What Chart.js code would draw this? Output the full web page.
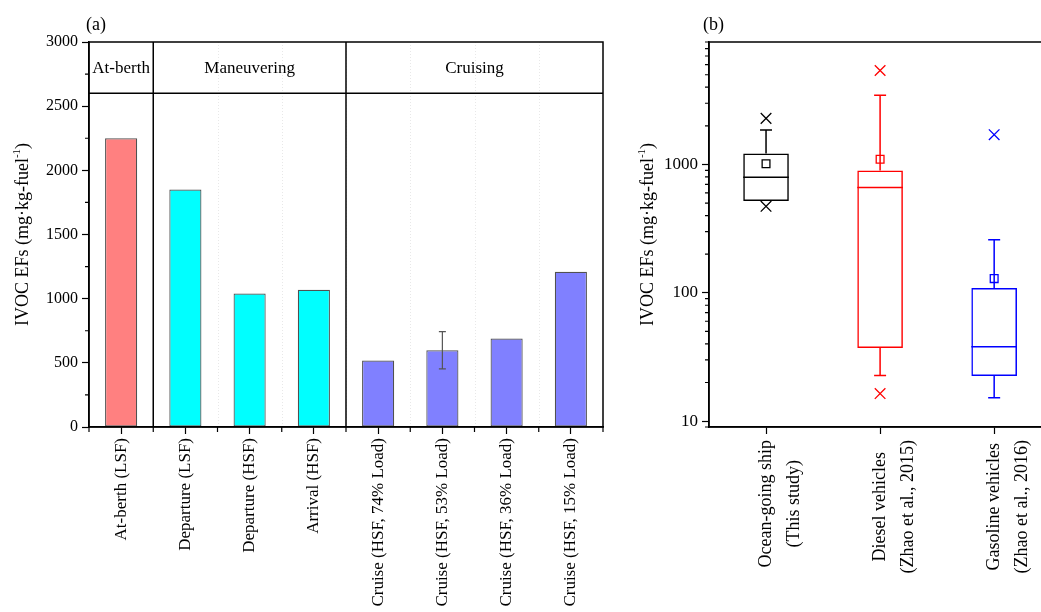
<!DOCTYPE html>
<html>
<head>
<meta charset="utf-8">
<title>IVOC emission factors</title>
<script src="https://cdn.jsdelivr.net/npm/chart.js@4.4.1/dist/chart.umd.min.js"></script>
<style>
  html, body { margin: 0; padding: 0; background: #fff; overflow: hidden; width: 1041px; height: 612px; }
  #panelA { position: absolute; left: 0; top: 0; }
  #panelB { position: absolute; left: 620px; top: 0; }
</style>
</head>
<body>
<canvas id="panelA" width="625" height="612"></canvas>
<canvas id="panelB" width="440" height="612"></canvas>
<script>
// ---- (a) IVOC EFs by operating mode (mg per kg fuel) ----
const modeLabels = ['At-berth (LSF)', 'Departure (LSF)', 'Departure (HSF)', 'Arrival (HSF)',
  'Cruise (HSF, 74% Load)', 'Cruise (HSF, 53% Load)', 'Cruise (HSF, 36% Load)', 'Cruise (HSF, 15% Load)'];
const modeEFs = [2250, 1850, 1040, 1070, 518, 598, 690, 1210];
const modeErr = [null, null, null, null, null, 145, null, null];
const modeColors = ['#FF8080', '#00FFFF', '#00FFFF', '#00FFFF', '#8080FF', '#8080FF', '#8080FF', '#8080FF'];
const phaseNames = ['At-berth', 'Maneuvering', 'Cruising'];
const phaseSizes = [1, 3, 4];
const phaseBandFloor = 2600;
const yTicksA = [0, 500, 1000, 1500, 2000, 2500, 3000];

// ---- (b) comparison with on-road vehicles (box statistics) ----
const sourceLabels = [
  ['Ocean-going ship', '(This study)'],
  ['Diesel vehicles', '(Zhao et al., 2015)'],
  ['Gasoline vehicles', '(Zhao et al., 2016)']
];
const boxQ1 = [520, 37.2, 22.5];
const boxQ3 = [1220, 897, 109];
const boxMedian = [796, 661, 38];
const boxMean = [1012, 1099, 129];
const whiskerLow = [520, 22.7, 15.2];
const whiskerHigh = [1854, 3460, 259];
const extremeHigh = [2286, 5400, 1706];
const extremeLow = [472, 16.4, null];
const sourceColors = ['#000000', '#FF0000', '#0000FF'];
const yTicksB = [10, 100, 1000];

const SERIF = '"Liberation Serif", "Times New Roman", serif';
Chart.defaults.font.family = SERIF;
Chart.defaults.color = '#000';

function drawYTitle(ctx, cx, cy, main, sup, tail, size) {
  ctx.save();
  ctx.translate(cx, cy);
  ctx.rotate(-Math.PI / 2);
  ctx.fillStyle = '#000';
  ctx.textBaseline = 'middle';
  ctx.textAlign = 'left';
  const f1 = size + 'px ' + SERIF, f2 = Math.round(size * 0.62) + 'px ' + SERIF;
  ctx.font = f1; const w1 = ctx.measureText(main).width; const w3 = ctx.measureText(tail).width;
  ctx.font = f2; const w2 = ctx.measureText(sup).width;
  let x = -(w1 + w2 + w3) / 2;
  ctx.font = f1; ctx.fillText(main, x, 0); x += w1;
  ctx.font = f2; ctx.fillText(sup, x, -size * 0.33); x += w2;
  ctx.font = f1; ctx.fillText(tail, x, 0);
  ctx.restore();
}

function boundaryPixel(xs, k) {
  // pixel between category k-1 and k
  const n = xs.getLabels().length;
  if (k <= 0) return xs.left;
  if (k >= n) return xs.right;
  return (xs.getPixelForValue(k - 1) + xs.getPixelForValue(k)) / 2;
}

const decorA = {
  id: 'decorA',
  beforeDatasetsDraw(chart) {
    const { ctx, chartArea: a, scales: { x } } = chart;
    ctx.save();
    ctx.strokeStyle = 'rgba(0,0,0,0.09)';
    ctx.lineWidth = 1;
    ctx.setLineDash([1, 2]);
    for (let k = 1; k < modeLabels.length; k++) {
      const px = Math.round(boundaryPixel(x, k)) + 0.5;
      ctx.beginPath(); ctx.moveTo(px, a.top); ctx.lineTo(px, a.bottom); ctx.stroke();
    }
    ctx.restore();
  },
  afterDatasetsDraw(chart) {
    const { ctx, scales: { x, y } } = chart;
    ctx.save();
    ctx.strokeStyle = '#555';
    ctx.lineWidth = 1.2;
    modeErr.forEach((e, i) => {
      if (e == null) return;
      const px = x.getPixelForValue(i);
      const yHi = y.getPixelForValue(modeEFs[i] + e), yLo = y.getPixelForValue(modeEFs[i] - e);
      ctx.beginPath();
      ctx.moveTo(px, yHi); ctx.lineTo(px, yLo);
      ctx.moveTo(px - 3.5, yHi); ctx.lineTo(px + 3.5, yHi);
      ctx.moveTo(px - 3.5, yLo); ctx.lineTo(px + 3.5, yLo);
      ctx.stroke();
    });
    ctx.restore();
  },
  afterDraw(chart) {
    const { ctx, chartArea: a, scales: { x, y } } = chart;
    ctx.save();
    ctx.strokeStyle = '#000';
    ctx.lineWidth = 1.5;
    // frame
    ctx.strokeRect(a.left, a.top, a.right - a.left, a.bottom - a.top);
    // phase header band
    const yb = y.getPixelForValue(phaseBandFloor);
    ctx.beginPath(); ctx.moveTo(a.left, yb); ctx.lineTo(a.right, yb); ctx.stroke();
    let start = 0;
    ctx.font = '17px ' + SERIF;
    ctx.fillStyle = '#000';
    ctx.textAlign = 'center';
    ctx.textBaseline = 'middle';
    phaseNames.forEach((name, g) => {
      const end = start + phaseSizes[g];
      const x0 = boundaryPixel(x, start), x1 = boundaryPixel(x, end);
      if (end < modeLabels.length) {
        ctx.beginPath(); ctx.moveTo(x1, a.top); ctx.lineTo(x1, a.bottom); ctx.stroke();
      }
      ctx.fillText(name, (x0 + x1) / 2, (a.top + yb) / 2 + 1);
      start = end;
    });
    // minor ticks
    ctx.lineWidth = 1.2;
    ctx.beginPath();
    for (let v = 250; v < 3000; v += 500) {
      const py = y.getPixelForValue(v);
      ctx.moveTo(a.left - 4, py); ctx.lineTo(a.left, py);
    }
    for (let k = 0; k <= modeLabels.length; k++) {
      const px = boundaryPixel(x, k);
      ctx.moveTo(px, a.bottom); ctx.lineTo(px, a.bottom + 5);
    }
    ctx.stroke();
    // panel tag and axis title
    ctx.font = '18px ' + SERIF;
    ctx.textAlign = 'left';
    ctx.textBaseline = 'alphabetic';
    ctx.fillText('(a)', 86, 30);
    ctx.restore();
    drawYTitle(ctx, 23, (a.top + a.bottom) / 2, 'IVOC EFs (mg\u00b7kg-fuel', '-1', ')', 18);
  }
};

new Chart(document.getElementById('panelA'), {
  type: 'bar',
  data: {
    labels: modeLabels,
    datasets: [{
      data: modeEFs,
      backgroundColor: modeColors,
      borderColor: 'rgba(50,50,50,0.85)',
      borderWidth: 1.2,
      borderSkipped: false,
      barPercentage: 0.5,
      categoryPercentage: 1
    }]
  },
  options: {
    responsive: false,
    devicePixelRatio: 1,
    animation: false,
    events: [],
    layout: { padding: { top: 42, right: 22, left: 0, bottom: 0 } },
    plugins: { legend: { display: false }, tooltip: { enabled: false } },
    scales: {
      x: {
        type: 'category',
        offset: true,
        grid: { offset: false, drawOnChartArea: false, tickLength: 7, tickColor: '#000', tickWidth: 1.2 },
        border: { color: '#000', width: 1.5 },
        ticks: { autoSkip: false, minRotation: 90, maxRotation: 90, padding: 4, color: '#000', font: { size: 17, family: SERIF } },
        afterFit: s => { s.height = 185; }
      },
      y: {
        min: 0, max: 3000,
        afterBuildTicks: s => { s.ticks = yTicksA.map(v => ({ value: v })); },
        grid: { drawOnChartArea: false, tickLength: 7, tickColor: '#000', tickWidth: 1.2 },
        border: { color: '#000', width: 1.5 },
        ticks: { padding: 4, color: '#000', font: { size: 16, family: SERIF }, callback: v => String(v) },
        afterFit: s => { s.width = 89; }
      }
    }
  },
  plugins: [decorA]
});

const decorB = {
  id: 'decorB',
  afterDatasetsDraw(chart) {
    const { ctx, scales: { x, y } } = chart;
    const boxes = chart.getDatasetMeta(0).data;
    ctx.save();
    ctx.lineWidth = 1.5;
    sourceLabels.forEach((_, i) => {
      const px = x.getPixelForValue(i);
      const half = boxes[i].width / 2;
      const cap = 6;
      ctx.strokeStyle = sourceColors[i];
      ctx.beginPath();
      const ym = y.getPixelForValue(boxMedian[i]);
      ctx.moveTo(px - half, ym); ctx.lineTo(px + half, ym);
      const yq3 = y.getPixelForValue(boxQ3[i]), yhi = y.getPixelForValue(whiskerHigh[i]);
      ctx.moveTo(px, yq3); ctx.lineTo(px, yhi);
      ctx.moveTo(px - cap, yhi); ctx.lineTo(px + cap, yhi);
      const yq1 = y.getPixelForValue(boxQ1[i]), ylo = y.getPixelForValue(whiskerLow[i]);
      if (ylo > yq1 + 0.5) {
        ctx.moveTo(px, yq1); ctx.lineTo(px, ylo);
        ctx.moveTo(px - cap, ylo); ctx.lineTo(px + cap, ylo);
      }
      ctx.stroke();
    });
    ctx.restore();
  },
  afterDraw(chart) {
    const { ctx, chartArea: a, scales: { x, y } } = chart;
    ctx.save();
    ctx.strokeStyle = '#000';
    ctx.lineWidth = 1.5;
    ctx.strokeRect(a.left, a.top, a.right - a.left, a.bottom - a.top);
    // log minor ticks
    ctx.lineWidth = 1.2;
    ctx.beginPath();
    for (let d = 1; d <= 1000; d *= 10) {
      for (let m = 2; m <= 9; m++) {
        const v = m * d;
        if (v < y.min || v > y.max) continue;
        const py = y.getPixelForValue(v);
        ctx.moveTo(a.left - 4, py); ctx.lineTo(a.left, py);
      }
    }
    ctx.stroke();
    // two-line category labels, centred on each other
    ctx.font = '18px ' + SERIF;
    ctx.fillStyle = '#000';
    ctx.textAlign = 'center';
    ctx.textBaseline = 'middle';
    sourceLabels.forEach((lines, i) => {
      const px = x.getPixelForValue(i);
      const w = Math.max(...lines.map(t => ctx.measureText(t).width));
      ctx.save();
      ctx.translate(px, a.bottom + 13 + w / 2);
      ctx.rotate(-Math.PI / 2);
      lines.forEach((t, j) => ctx.fillText(t, 0, j * 28));
      ctx.restore();
    });
    ctx.textAlign = 'left';
    ctx.textBaseline = 'alphabetic';
    ctx.fillText('(b)', 83, 30);
    ctx.restore();
    drawYTitle(ctx, 28, (a.top + a.bottom) / 2, 'IVOC EFs (mg\u00b7kg-fuel', '-1', ')', 18);
  }
};

new Chart(document.getElementById('panelB'), {
  type: 'bar',
  data: {
    labels: sourceLabels,
    datasets: [
      {
        data: boxQ1.map((q, i) => [q, boxQ3[i]]),
        backgroundColor: 'rgba(0,0,0,0)',
        borderColor: sourceColors,
        borderWidth: 1.5,
        borderSkipped: false,
        barPercentage: 0.4,
        categoryPercentage: 1,
        order: 3
      },
      {
        type: 'line', data: boxMean, showLine: false,
        pointStyle: 'rect', pointRadius: 5.5, pointBorderWidth: 1.3,
        pointBorderColor: sourceColors, pointBackgroundColor: 'rgba(0,0,0,0)', order: 1
      },
      {
        type: 'line', data: extremeHigh, showLine: false,
        pointStyle: 'crossRot', pointRadius: 7.5, pointBorderWidth: 1.3,
        pointBorderColor: sourceColors, order: 1
      },
      {
        type: 'line', data: extremeLow, showLine: false,
        pointStyle: 'crossRot', pointRadius: 7.5, pointBorderWidth: 1.3,
        pointBorderColor: sourceColors, order: 1
      }
    ]
  },
  options: {
    responsive: false,
    devicePixelRatio: 1,
    animation: false,
    events: [],
    layout: { padding: { top: 42, right: 8, left: 0, bottom: 0 } },
    plugins: { legend: { display: false }, tooltip: { enabled: false } },
    scales: {
      x: {
        type: 'category',
        offset: true,
        grid: { offset: false, drawOnChartArea: false, tickLength: 7, tickColor: '#000', tickWidth: 1.2 },
        border: { color: '#000', width: 1.5 },
        ticks: { display: false },
        afterFit: s => { s.height = 185; }
      },
      y: {
        type: 'logarithmic',
        min: 9, max: 9000,
        afterBuildTicks: s => { s.ticks = yTicksB.map(v => ({ value: v })); },
        grid: { drawOnChartArea: false, tickLength: 7, tickColor: '#000', tickWidth: 1.2 },
        border: { color: '#000', width: 1.5 },
        ticks: { padding: 4, color: '#000', font: { size: 17, family: SERIF }, callback: v => String(v) },
        afterFit: s => { s.width = 89; }
      }
    }
  },
  plugins: [decorB]
});
</script>
</body>
</html>
